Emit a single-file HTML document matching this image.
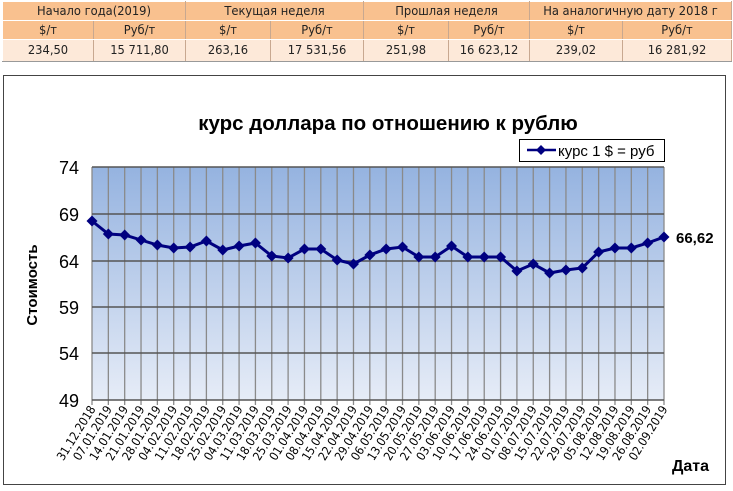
<!DOCTYPE html>
<html><head><meta charset="utf-8"><style>
body{margin:0;width:733px;height:491px;background:#fff;overflow:hidden;font-family:Tahoma,"DejaVu Sans",sans-serif}
table{position:absolute;left:2px;top:1px;border-collapse:collapse;font-family:"DejaVu Sans Condensed","DejaVu Sans",sans-serif;font-size:12.8px;color:#222}
td{border:1px solid #fff;border-right:1px solid #c8a890;text-align:center;padding:0;height:18px;background:#f9c18f}
tr.d td{background:#fde9d9;height:21px;border-bottom:1px solid #999}
</style></head><body>
<table>
<tr><td colspan="2" style="width:182px">Начало года(2019)</td><td colspan="2" style="width:177px">Текущая неделя</td><td colspan="2" style="width:165px">Прошлая неделя</td><td colspan="2" style="width:201px">На аналогичную дату 2018 г</td></tr>
<tr><td style="width:90px">$/т</td><td>Руб/т</td><td style="width:84px">$/т</td><td>Руб/т</td><td style="width:84px">$/т</td><td>Руб/т</td><td style="width:92px">$/т</td><td>Руб/т</td></tr>
<tr class="d"><td>234,50</td><td>15 711,80</td><td>263,16</td><td>17 531,56</td><td>251,98</td><td>16 623,12</td><td>239,02</td><td>16 281,92</td></tr>
</table>
<svg width="733" height="491" style="position:absolute;left:0;top:0" font-family="Liberation Sans, sans-serif">
<defs><linearGradient id="g" x1="0" y1="0" x2="0" y2="1"><stop offset="0" stop-color="#95b3e0"/><stop offset="1" stop-color="#e6ecf7"/></linearGradient></defs>
<rect x="3.5" y="75.5" width="722" height="409" fill="#fff" stroke="#444" stroke-width="1"/>
<text x="388" y="130" font-size="20.5" font-weight="bold" text-anchor="middle">курс доллара по отношению к рублю</text>
<rect x="92" y="167" width="572" height="233" fill="url(#g)"/>
<g id="grid" stroke="#8a8a8a" stroke-width="1.3"></g>
<g stroke="#555" stroke-width="1.5"><line x1="92" y1="167" x2="664" y2="167"/><line x1="92" y1="214" x2="664" y2="214"/><line x1="92" y1="261" x2="664" y2="261"/><line x1="92" y1="307" x2="664" y2="307"/><line x1="92" y1="353" x2="664" y2="353"/><line x1="92" y1="400" x2="664" y2="400"/></g>
<g font-size="18" text-anchor="end"><text x="79" y="174">74</text><text x="79" y="221">69</text><text x="79" y="268">64</text><text x="79" y="314">59</text><text x="79" y="360">54</text><text x="79" y="407">49</text></g>
<text transform="translate(37,285) rotate(-90)" font-size="15" font-weight="bold" text-anchor="middle">Стоимость</text>
<text x="672" y="471" font-size="16" font-weight="bold">Дата</text>
<rect x="519.5" y="139.5" width="145" height="22" fill="#fff" stroke="#000"/>
<line x1="527" y1="150" x2="556" y2="150" stroke="#000080" stroke-width="2.5"/><path d="M541 145l5 5-5 5-5-5z" fill="#000080"/>
<text x="558" y="156" font-size="15">курс 1 $ = руб</text>
<polyline id="ln" fill="none" stroke="#000080" stroke-width="3"/>
<g id="mk" fill="#000080"></g>
<g id="lb" font-size="12" font-family="DejaVu Sans Condensed, sans-serif"></g>
<text x="676" y="243" font-size="15" font-weight="bold">66,62</text>
</svg>
<script>
var ys=[221,234,235,240,245,248,247,241,250,246,243,256,258,249,249,260,264,255,249,247,257,257,246,257,257,257,271,264,273,270,268,252,248,248,243,237];
var d=["31.12.2018","07.01.2019","14.01.2019","21.01.2019","28.01.2019","04.02.2019","11.02.2019","18.02.2019","25.02.2019","04.03.2019","11.03.2019","18.03.2019","25.03.2019","01.04.2019","08.04.2019","15.04.2019","22.04.2019","29.04.2019","06.05.2019","13.05.2019","20.05.2019","27.05.2019","03.06.2019","10.06.2019","17.06.2019","24.06.2019","01.07.2019","08.07.2019","15.07.2019","22.07.2019","29.07.2019","05.08.2019","12.08.2019","19.08.2019","26.08.2019","02.09.2019"];
var ns="http://www.w3.org/2000/svg",pts=[],g=document.getElementById('grid'),mk=document.getElementById('mk'),lb=document.getElementById('lb');
for(var i=0;i<36;i++){var x=92+i*572/35;pts.push(x+","+ys[i]);
var l=document.createElementNS(ns,'line');l.setAttribute('x1',x);l.setAttribute('x2',x);l.setAttribute('y1',167);l.setAttribute('y2',405);g.appendChild(l);
var p=document.createElementNS(ns,'path');p.setAttribute('d','M'+x+' '+(ys[i]-5.5)+'l5.5 5.5-5.5 5.5-5.5-5.5z');mk.appendChild(p);
var t=document.createElementNS(ns,'text');t.setAttribute('transform','translate('+(x+4)+',409) rotate(-58)');t.setAttribute('text-anchor','end');t.textContent=d[i];lb.appendChild(t);}
document.getElementById('ln').setAttribute('points',pts.join(' '));
</script>
</body></html>
